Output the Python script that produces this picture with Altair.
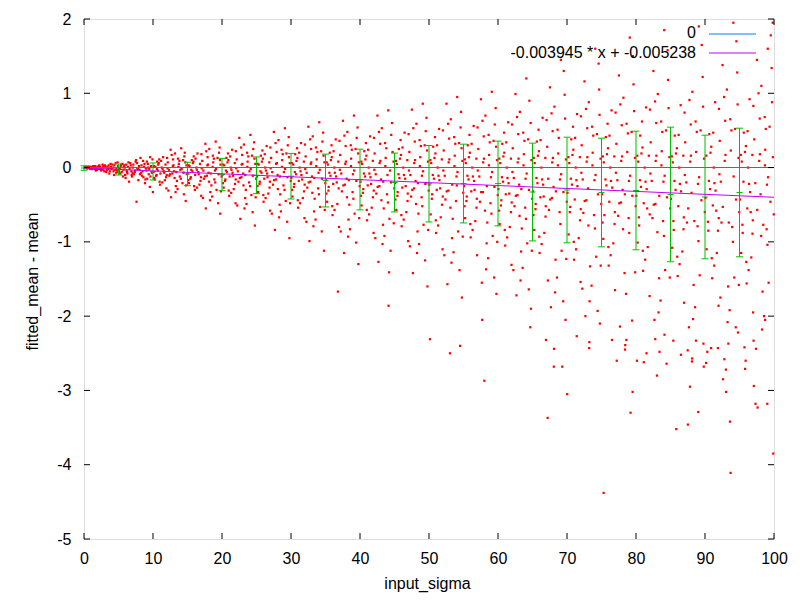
import altair as alt
import pandas as pd

# ---------------- data ----------------
eb_x = [0, 5, 10, 15, 20, 25, 30, 35, 40, 45, 50, 55, 60, 65, 70, 75, 80, 85, 90, 95]
eb_hi = [0.024, 0.048, 0.062, 0.072, 0.124, 0.143, 0.191, 0.181, 0.248, 0.195,
         0.297, 0.315, 0.356, 0.329, 0.409, 0.396, 0.490, 0.544, 0.436, 0.530]
eb_lo = [-0.036, -0.100, -0.167, -0.244, -0.311, -0.351, -0.423, -0.530, -0.570, -0.597,
         -0.732, -0.745, -0.785, -0.987, -1.013, -1.067, -1.107, -1.268, -1.228, -1.201]
eb_mean = [-0.006, -0.026, -0.053, -0.086, -0.094, -0.104, -0.116, -0.175, -0.161, -0.201,
           -0.218, -0.215, -0.215, -0.329, -0.302, -0.336, -0.309, -0.362, -0.396, -0.336]

fit_slope = -0.003945
fit_intercept = -0.005238
line_x = [0, 100]

x_ticks = [0, 10, 20, 30, 40, 50, 60, 70, 80, 90, 100]
y_ticks = [-5, -4, -3, -2, -1, 0, 1, 2]

legend_labels = ["0", "-0.003945 * x + -0.005238"]

# scatter samples (estimated positions of the red dots)
dots_00 = [(0.37,0.00),(2.81,-0.03),(1.52,0.01),(4.66,-0.07),(3.09,0.02),(0.84,-0.01),(2.23,0.03),(4.12,0.04),(1.17,-0.02),(3.74,-0.05),(0.61,0.01),(2.57,-0.01),(4.93,0.02),(1.88,-0.03),(3.41,0.01),(0.15,0.00),(2.02,0.00),(4.35,-0.10),(1.33,0.02),(3.96,-0.02),(0.99,0.00),(2.69,0.04),(4.58,0.06),(1.71,-0.04),(3.22,-0.06),(0.48,-0.01),(2.38,-0.02),(4.79,-0.04),(1.06,0.01),(3.57,0.03),(0.26,0.01),(2.94,-0.05),(4.21,0.00),(1.45,-0.01),(3.85,0.05),(0.72,0.00),(2.13,0.02),(4.47,-0.03),(1.96,0.01),(3.33,-0.03),(0.55,0.00),(2.47,-0.04),(4.04,-0.01),(1.62,0.02),(3.66,-0.08),(0.91,-0.02),(2.75,0.01),(4.87,0.07),(1.24,-0.01),(3.14,0.00),(0.08,0.00),(2.31,0.01),(4.28,-0.05),(1.81,0.00),(3.49,-0.02),(0.66,0.01),(2.88,0.02),(4.71,-0.01),(1.39,0.01),(3.90,0.01),(0.43,-0.01),(2.18,-0.02),(4.41,0.03),(1.58,-0.02),(3.03,0.03),(0.79,0.01),(2.63,-0.02),(4.97,-0.06),(1.12,0.00),(3.61,-0.01)]
dots_05 = [(7.42,-0.04),(5.83,0.03),(9.17,-0.15),(6.29,-0.08),(8.56,0.09),(5.14,-0.01),(9.71,0.02),(6.95,-0.12),(8.03,-0.03),(7.68,0.06),(5.47,-0.06),(9.38,-0.09),(6.12,0.04),(8.84,-0.21),(7.09,0.00),(5.96,-0.10),(9.92,0.11),(6.61,-0.02),(8.27,-0.07),(7.88,-0.17),(5.32,0.02),(9.05,-0.04),(6.44,0.07),(8.69,0.01),(7.23,-0.09),(5.71,-0.03),(9.54,-0.26),(6.78,0.03),(8.41,-0.11),(7.55,0.10),(5.08,-0.05),(9.26,0.05),(6.03,-0.14),(8.95,-0.01),(7.36,-0.06),(5.59,0.05),(9.83,-0.07),(6.87,-0.05),(8.18,0.13),(7.74,-0.02),(5.25,-0.08),(9.63,-0.12),(6.36,0.01),(8.62,-0.13),(7.15,0.04),(5.90,0.00),(9.11,0.08),(6.53,-0.19),(8.49,-0.05),(7.97,0.02),(5.66,-0.12),(9.46,-0.02),(6.18,-0.04),(8.77,0.05),(7.61,-0.46),(5.39,0.04),(9.99,-0.33),(6.70,0.06),(8.10,-0.09),(7.03,-0.07),(5.77,0.01),(9.30,0.00),(6.91,-0.10),(8.33,0.03),(7.47,0.08),(5.18,-0.02),(9.58,0.14),(6.24,-0.06),(8.90,-0.16),(7.81,-0.01)]
dots_10 = [(12.46,-0.09),(10.83,0.06),(14.27,-0.21),(11.39,-0.02),(13.62,0.12),(10.17,-0.14),(14.85,0.03),(11.94,-0.28),(13.05,-0.05),(12.71,0.17),(10.52,-0.10),(14.48,-0.36),(11.16,0.09),(13.88,-0.12),(12.09,-0.01),(10.96,-0.19),(14.61,0.20),(11.63,-0.07),(13.31,-0.25),(12.88,0.02),(10.34,0.01),(14.03,-0.15),(11.47,0.14),(13.74,0.05),(12.23,-0.31),(10.69,-0.04),(14.92,-0.09),(11.81,0.04),(13.47,-0.18),(12.55,0.24),(10.08,-0.06),(14.36,0.10),(11.02,-0.23),(13.96,-0.03),(12.37,-0.11),(10.61,0.08),(14.74,-0.45),(11.89,-0.13),(13.19,0.19),(12.80,-0.08),(10.25,-0.16),(14.15,-0.02),(11.28,0.00),(13.56,-0.29),(12.14,0.07),(10.90,0.11),(14.54,0.15),(11.72,-0.17),(13.39,-0.06),(12.97,0.03),(10.44,-0.11),(14.81,-0.24),(11.55,-0.05),(13.83,0.09),(12.62,-0.40),(10.75,0.04),(14.09,0.26),(11.08,-0.08),(13.13,-0.14),(12.32,-0.03),(10.13,0.02),(14.42,-0.07),(11.35,-0.20),(13.68,0.01),(12.91,0.11),(10.57,-0.02),(14.68,0.07),(11.99,-0.10),(13.27,-0.33),(12.04,0.13)]
dots_15 = [(17.53,-0.12),(15.86,0.08),(19.21,-0.30),(16.34,-0.03),(18.67,0.16),(15.12,-0.17),(19.78,0.04),(16.99,-0.38),(18.04,-0.07),(17.72,0.22),(15.48,-0.13),(19.43,-0.48),(16.17,0.12),(18.89,-0.16),(17.06,-0.01),(15.95,-0.25),(19.66,0.27),(16.62,-0.09),(18.31,-0.33),(17.88,0.03),(15.29,0.02),(19.02,-0.20),(16.45,0.19),(18.73,0.07),(17.24,-0.41),(15.71,-0.05),(19.94,-0.12),(16.81,0.05),(18.46,-0.24),(17.59,0.32),(15.05,-0.08),(19.35,0.13),(16.07,-0.30),(18.98,-0.04),(17.37,-0.15),(15.63,0.10),(19.74,-0.62),(16.88,-0.18),(18.16,0.25),(17.81,-0.11),(15.22,-0.21),(19.13,-0.02),(16.28,0.00),(18.58,-0.39),(17.14,0.09),(15.90,0.15),(19.57,0.20),(16.73,-0.23),(18.37,-0.08),(17.97,0.04),(15.41,-0.15),(19.84,-0.32),(16.56,-0.06),(18.82,0.12),(17.65,-0.55),(15.77,0.06),(19.09,0.35),(16.11,-0.10),(18.12,-0.19),(17.30,-0.04),(15.16,0.03),(19.49,-0.09),(16.39,-0.27),(18.64,0.01),(17.91,0.14),(15.55,-0.03),(19.70,0.10),(16.95,-0.13),(18.26,-0.44),(17.02,0.18)]
dots_20 = [(22.58,-0.14),(20.91,0.10),(24.26,-0.37),(21.37,-0.03),(23.64,0.20),(20.14,-0.21),(24.83,0.05),(21.96,-0.48),(23.07,-0.08),(22.77,0.27),(20.49,-0.16),(24.44,-0.60),(21.19,0.15),(23.92,-0.20),(22.06,-0.01),(20.98,-0.31),(24.65,0.34),(21.61,-0.11),(23.36,-0.41),(22.85,0.04),(20.32,0.03),(24.07,-0.25),(21.46,0.24),(23.71,0.08),(22.21,-0.51),(20.72,-0.06),(24.95,-0.15),(21.85,0.06),(23.45,-0.30),(22.51,0.40),(20.06,-0.10),(24.35,0.16),(21.04,-0.38),(23.98,-0.05),(22.38,-0.19),(20.63,0.13),(24.76,-0.78),(21.88,-0.22),(23.17,0.31),(22.82,-0.13),(20.24,-0.27),(24.16,-0.02),(21.27,0.00),(23.55,-0.49),(22.13,0.11),(20.87,0.19),(24.53,0.25),(21.70,-0.29),(23.38,-0.10),(22.96,0.05),(20.43,-0.18),(24.88,-0.40),(21.53,-0.07),(23.81,0.15),(22.66,-0.69),(20.79,0.07),(24.12,0.44),(21.11,-0.12),(23.11,-0.24),(22.29,-0.05),(20.18,0.04),(24.47,-0.11),(21.33,-0.34),(23.67,0.01),(22.92,0.17),(20.56,-0.04),(24.71,0.12),(21.99,-0.16),(23.26,-0.55),(22.01,0.22)]
dots_25 = [(27.55,-0.17),(25.92,0.12),(29.24,-0.45),(26.36,-0.04),(28.63,0.24),(25.15,-0.25),(29.82,0.06),(26.97,-0.58),(28.06,-0.10),(27.76,0.33),(25.48,-0.19),(29.45,-0.73),(26.19,0.18),(28.91,-0.24),(27.05,-0.01),(25.99,-0.37),(29.67,0.41),(26.60,-0.13),(28.35,-0.50),(27.84,0.05),(25.31,0.04),(29.06,-0.30),(26.47,0.29),(28.72,0.10),(27.22,-0.62),(25.73,-0.07),(29.96,-0.18),(26.86,0.07),(28.44,-0.36),(27.52,0.48),(25.07,-0.12),(29.34,0.19),(26.03,-0.46),(28.97,-0.06),(27.39,-0.23),(25.64,0.16),(29.77,-0.95),(26.89,-0.27),(28.18,0.37),(27.83,-0.16),(25.23,-0.33),(29.15,-0.02),(26.26,0.00),(28.54,-0.59),(27.12,0.13),(25.86,0.23),(29.53,0.30),(26.71,-0.35),(28.39,-0.12),(27.95,0.06),(25.44,-0.22),(29.87,-0.48),(26.54,-0.08),(28.80,0.18),(27.67,-0.84),(25.78,0.08),(29.11,0.53),(26.12,-0.15),(28.10,-0.29),(27.28,-0.06),(25.19,0.05),(29.48,-0.13),(26.32,-0.41),(28.68,0.01),(27.93,0.21),(25.57,-0.05),(29.71,0.14),(26.94,-0.19),(28.27,-0.67),(27.01,0.27)]
dots_30 = [(32.57,-0.20),(30.93,0.13),(34.23,-0.53),(31.38,-0.05),(33.61,0.27),(30.16,-0.30),(34.84,0.07),(31.95,-0.68),(33.04,-0.12),(32.78,0.38),(30.47,-0.22),(34.46,-0.86),(31.18,0.20),(33.93,-0.28),(32.07,-0.02),(30.99,-0.44),(34.66,0.47),(31.62,-0.16),(33.34,-0.59),(32.86,0.05),(30.33,0.04),(34.05,-0.36),(31.45,0.33),(33.72,0.11),(32.23,-0.73),(30.74,-0.09),(34.97,-0.21),(31.87,0.08),(33.43,-0.42),(32.52,0.55),(30.05,-0.14),(34.37,0.22),(31.03,-0.54),(33.99,-0.07),(32.36,-0.27),(30.61,0.18),(34.78,-1.12),(31.89,-0.32),(33.15,0.42),(32.81,-0.19),(30.21,-0.39),(34.17,-0.03),(31.25,0.00),(33.56,-0.70),(32.12,0.15),(30.88,0.26),(34.55,0.35),(31.71,-0.41),(33.37,-0.14),(32.94,0.07),(30.42,-0.26),(34.89,-0.57),(31.51,-0.10),(33.82,0.21),(32.68,-0.99),(30.79,0.09),(34.10,0.61),(31.13,-0.18),(33.09,-0.34),(32.27,-0.07),(30.12,0.06),(34.49,-0.15),(31.31,-0.48),(33.66,0.02),(32.91,0.25),(30.55,-0.06),(34.72,0.16),(31.98,-0.23),(33.25,-0.79),(32.02,0.31)]
dots_35 = [(37.59,-0.24),(35.91,0.14),(39.22,-0.62),(36.35,-0.07),(38.66,0.30),(35.14,-0.35),(39.83,0.07),(36.96,-0.80),(38.07,-0.15),(37.74,0.43),(35.46,-0.26),(39.44,-1.01),(36.17,0.22),(38.92,-0.33),(37.08,-0.03),(35.97,-0.52),(39.65,0.54),(36.63,-0.20),(38.33,-0.70),(37.87,0.05),(35.34,0.04),(39.04,-0.42),(36.48,0.38),(38.71,0.12),(37.21,-0.86),(35.72,-0.11),(39.95,-0.25),(36.85,0.08),(38.45,-0.50),(37.53,0.63),(35.06,-0.17),(39.36,0.25),(36.02,-0.64),(38.98,-0.09),(37.38,-0.32),(35.62,0.20),(39.76,-1.30),(36.80,-1.67),(38.17,0.48),(37.82,-0.23),(35.24,-0.46),(39.16,-0.04),(36.27,0.00),(38.55,-0.83),(37.13,0.17),(35.87,0.30),(39.52,0.40),(36.72,-0.49),(38.38,-0.17),(37.96,0.08),(35.43,-0.31),(39.88,-0.68),(36.53,-0.12),(38.81,0.24),(37.69,-1.15),(35.78,0.10),(39.12,0.70),(36.11,-0.22),(38.11,-0.40),(37.29,-0.08),(35.18,0.07),(39.47,-0.18),(36.31,-0.57),(38.69,0.02),(37.92,0.29),(35.56,-0.07),(39.73,0.19),(36.91,-0.28),(38.28,-0.93),(37.03,0.36)]
dots_40 = [(42.56,-0.26),(40.92,0.16),(44.27,-0.69),(41.36,-0.08),(43.63,0.33),(40.15,-0.38),(44.86,0.08),(41.97,-0.88),(43.05,-0.16),(42.75,0.48),(40.47,-0.29),(44.43,-1.12),(41.18,0.24),(43.91,-0.36),(42.08,-0.03),(40.98,-0.57),(44.64,0.60),(41.61,-0.22),(43.33,-0.77),(42.84,0.06),(40.31,0.05),(44.05,-0.47),(41.46,0.42),(43.72,0.13),(42.22,-0.95),(40.73,-0.12),(44.96,-0.28),(41.86,0.09),(43.44,-0.55),(42.53,0.70),(40.07,-0.19),(44.14,-1.86),(41.02,-0.71),(43.98,-0.10),(42.37,-0.35),(40.62,0.22),(44.22,-1.41),(41.88,-0.40),(43.16,0.53),(42.81,-0.25),(40.23,-0.51),(44.35,-0.04),(41.26,0.00),(43.54,-0.92),(42.12,0.19),(40.86,0.33),(44.53,0.44),(41.70,-0.54),(43.37,-0.19),(42.95,0.09),(40.42,-0.34),(44.89,-0.75),(41.52,-0.13),(43.81,0.26),(42.67,-1.27),(40.78,0.11),(44.09,0.77),(41.12,-0.24),(43.10,-0.44),(42.28,-0.09),(40.19,0.08),(44.48,-0.20),(41.32,-0.63),(43.67,0.02),(42.93,0.32),(40.57,-0.08),(44.72,0.21),(41.99,-0.31),(43.26,-1.03),(42.03,0.40)]
dots_45 = [(47.58,-0.30),(45.94,0.17),(49.21,-0.77),(46.37,-0.10),(48.64,0.37),(45.13,-0.43),(49.85,0.08),(46.98,-0.99),(48.06,-0.18),(47.73,0.53),(45.45,-0.33),(49.43,-1.25),(46.16,0.27),(48.93,-0.40),(47.09,-0.04),(45.99,-0.64),(49.64,0.67),(46.62,-0.25),(48.34,-0.86),(47.86,0.06),(45.33,0.05),(49.02,-0.52),(46.46,0.47),(48.73,0.14),(47.23,-1.06),(45.71,-0.14),(49.96,-0.31),(46.85,0.10),(48.46,-0.62),(47.52,0.78),(45.08,-0.21),(49.37,0.30),(46.04,-0.79),(48.97,-0.11),(47.41,-0.39),(45.63,0.25),(49.77,-1.60),(46.89,-0.45),(48.18,0.59),(47.83,-0.28),(45.26,-0.57),(49.14,-0.05),(46.27,0.00),(48.56,-1.03),(47.15,0.21),(45.88,0.37),(49.53,0.49),(46.71,-0.60),(48.39,-0.21),(47.98,0.10),(45.42,-0.38),(49.88,-0.84),(46.55,-0.15),(48.82,0.29),(47.67,-1.42),(45.79,0.12),(49.10,0.86),(46.13,-0.27),(48.12,-0.49),(47.30,-0.10),(45.20,0.09),(49.47,-0.22),(46.33,-0.70),(48.68,0.02),(47.94,0.35),(45.58,-0.09),(49.72,0.23),(46.92,-0.35),(48.27,-1.15),(47.04,0.45)]
dots_50 = [(52.57,-0.32),(50.93,0.19),(54.22,-0.86),(51.38,-0.11),(53.65,0.41),(50.14,-2.31),(54.84,0.09),(51.97,-1.10),(53.04,-2.50),(52.76,0.59),(50.46,-0.36),(54.43,-1.38),(51.17,0.30),(53.92,-0.45),(52.08,-0.04),(50.99,-0.71),(54.65,0.75),(51.62,-0.28),(53.34,-0.95),(52.85,0.07),(50.32,0.06),(54.51,-2.40),(51.46,0.52),(53.73,0.16),(52.22,-1.18),(50.72,-0.15),(54.96,-0.34),(51.86,0.11),(53.44,-0.69),(52.53,0.86),(50.06,-0.23),(54.35,0.33),(51.03,-0.88),(53.98,-0.12),(52.38,-0.43),(50.61,0.28),(54.77,-1.75),(51.89,-0.50),(53.16,0.65),(52.81,-0.31),(50.24,-0.63),(54.13,-0.06),(51.26,0.00),(53.56,-1.14),(52.13,0.23),(50.87,0.41),(54.58,0.54),(51.70,-0.67),(53.37,-0.23),(52.95,0.11),(50.41,-0.42),(54.89,-0.93),(51.51,-0.17),(53.81,0.32),(52.67,-1.57),(50.79,0.13),(54.09,0.95),(51.12,-0.30),(53.10,-0.54),(52.28,-0.11),(50.19,0.10),(54.03,-0.24),(51.32,-0.78),(53.69,0.02),(52.92,0.39),(50.55,-0.10),(54.72,0.26),(51.99,-0.39),(53.26,-1.28),(52.02,0.50)]
dots_55 = [(57.56,-0.33),(55.92,0.20),(59.23,-0.92),(56.36,-0.12),(58.64,0.44),(55.15,-0.52),(59.86,0.10),(56.97,-1.18),(58.02,-2.87),(57.75,0.63),(55.47,-0.39),(59.44,-1.48),(56.18,0.32),(58.92,-0.48),(57.07,-0.04),(55.98,-0.76),(59.66,0.80),(56.61,-0.30),(58.35,-1.02),(57.85,0.07),(55.33,0.06),(59.05,-0.62),(56.47,0.56),(58.72,0.17),(57.71,-2.05),(55.73,-0.16),(59.97,-0.37),(56.86,0.12),(58.45,-0.74),(57.53,0.92),(55.07,-0.25),(59.36,0.36),(56.04,-0.94),(58.98,-0.13),(57.39,-0.46),(55.62,0.30),(59.77,-1.70),(56.88,-0.54),(58.17,0.70),(57.82,-0.33),(55.24,-0.68),(59.14,-0.06),(56.26,0.00),(58.56,-1.22),(57.14,0.25),(55.87,0.44),(59.53,0.58),(56.71,-0.72),(58.38,-0.25),(57.96,0.12),(55.42,-0.45),(59.89,-1.00),(56.53,-0.18),(58.81,0.34),(57.66,-1.55),(55.79,0.14),(59.10,1.02),(56.13,-0.32),(58.11,-0.58),(57.29,-0.12),(55.19,0.11),(59.48,-0.26),(56.32,-0.84),(58.69,0.03),(57.93,0.42),(55.57,-0.11),(59.72,0.28),(56.93,-0.42),(58.27,-1.37),(57.03,0.54)]
dots_60 = [(62.58,-0.38),(60.91,0.20),(64.24,-1.02),(61.37,-0.14),(63.66,0.47),(60.16,-0.58),(64.85,0.10),(61.96,-1.31),(63.06,-0.23),(62.77,0.68),(60.48,-0.44),(64.46,-1.64),(61.19,0.34),(63.94,-0.54),(62.09,-0.06),(60.98,-0.84),(64.67,-2.15),(61.63,-0.35),(63.35,-1.13),(62.86,0.07),(60.33,0.06),(64.05,-0.69),(61.47,0.61),(63.74,0.18),(62.23,-1.38),(60.73,-0.19),(64.96,-0.42),(61.87,0.12),(63.45,-0.82),(62.54,0.99),(60.06,-0.29),(64.36,0.38),(61.04,-1.05),(63.99,-0.15),(62.39,-0.52),(60.62,0.32),(64.78,-1.90),(61.88,-0.60),(63.17,0.75),(62.82,-0.37),(60.24,-0.76),(64.15,-0.08),(61.27,0.00),(63.57,-1.35),(62.14,0.26),(60.88,0.47),(64.55,0.90),(61.71,-0.80),(63.38,-0.29),(62.97,0.12),(60.42,-0.51),(64.90,-1.12),(61.53,-0.21),(63.83,0.36),(62.68,-1.72),(60.78,0.15),(64.11,1.20),(61.13,-0.36),(63.12,-0.65),(62.29,-0.14),(60.19,0.12),(64.49,-0.30),(61.33,-0.94),(63.70,0.03),(62.93,0.45),(60.57,-0.13),(64.73,0.60),(61.99,-0.47),(63.27,-1.52),(62.03,0.58)]
dots_65 = [(67.57,-0.43),(65.93,0.22),(69.22,-1.12),(66.38,-0.16),(68.63,0.51),(65.14,-0.64),(69.84,0.11),(66.95,-2.32),(68.05,-0.26),(67.76,0.73),(65.46,-0.49),(69.45,-1.80),(66.17,0.37),(68.93,-0.60),(67.19,-3.37),(65.98,-0.93),(69.66,0.98),(66.62,-0.39),(68.34,-1.24),(67.86,0.07),(65.32,0.06),(69.04,-0.76),(66.46,0.67),(68.72,0.19),(67.22,-1.52),(65.72,-0.21),(69.97,-0.46),(66.86,0.13),(68.12,-2.44),(67.53,1.08),(65.07,-0.32),(69.31,-2.68),(66.03,-1.15),(68.98,-0.16),(67.38,-0.57),(65.63,0.35),(69.78,-2.05),(66.89,-0.66),(68.17,0.82),(67.81,-0.41),(65.25,-0.84),(69.15,-0.09),(66.28,0.00),(68.55,-1.48),(67.13,0.28),(65.87,0.51),(69.53,1.30),(66.71,-0.88),(68.39,-0.32),(67.96,0.13),(65.43,-0.56),(69.89,-1.23),(66.54,-0.23),(68.81,0.40),(67.67,-1.88),(65.78,0.16),(69.11,1.45),(66.14,-0.40),(68.09,-2.68),(67.28,-0.15),(65.18,0.13),(69.48,-0.33),(66.32,-1.03),(68.68,0.03),(67.92,0.49),(65.57,-0.14),(69.72,0.66),(66.92,-0.52),(68.27,-1.68),(67.04,0.64)]
dots_70 = [(72.56,-0.45),(70.92,0.24),(74.23,-1.20),(71.36,-0.17),(73.64,0.55),(70.03,-3.05),(74.86,0.12),(71.97,-1.54),(73.05,-0.28),(72.75,0.79),(70.47,-0.53),(74.44,-1.93),(71.18,0.40),(73.92,-0.64),(72.08,-0.07),(70.98,-1.00),(74.65,1.05),(71.41,-2.27),(73.34,-1.33),(72.85,0.08),(70.33,0.06),(74.05,-0.82),(71.46,0.72),(73.72,0.20),(72.22,-1.63),(70.72,-0.23),(74.96,-0.49),(71.86,0.14),(73.21,-2.43),(72.53,1.16),(70.07,-0.34),(74.35,0.45),(71.02,-1.24),(73.98,-0.17),(72.37,-0.61),(70.62,0.38),(74.77,-2.10),(71.89,-0.71),(73.16,0.88),(72.81,-0.44),(70.24,-0.90),(74.14,-0.10),(71.26,0.00),(73.56,-1.59),(72.13,0.30),(70.87,0.55),(74.58,1.40),(71.70,-0.95),(73.24,-2.35),(72.95,0.14),(70.41,-0.60),(74.89,-1.32),(71.51,-0.25),(73.81,0.43),(72.67,-2.00),(70.79,0.17),(74.09,1.60),(71.12,-0.43),(73.10,-0.78),(72.28,-0.16),(70.19,0.14),(74.48,-0.36),(71.32,-1.10),(73.69,0.03),(72.93,0.53),(70.56,-0.15),(74.72,0.71),(71.99,-0.56),(73.27,-1.80),(72.02,0.69)]
dots_75 = [(77.58,-0.48),(75.94,0.26),(79.21,-3.30),(76.37,-0.18),(78.64,0.59),(75.15,-0.74),(79.85,0.13),(76.96,-1.65),(78.06,-0.30),(77.73,0.85),(75.31,-4.38),(79.43,-2.06),(76.16,0.43),(78.93,-0.68),(77.09,-0.07),(75.99,-1.07),(79.64,1.12),(76.52,-2.32),(78.34,-1.42),(77.86,0.09),(75.33,0.07),(79.02,-0.88),(76.46,0.77),(78.73,0.21),(77.21,-2.60),(75.71,-0.24),(79.96,-0.52),(76.85,0.15),(78.41,-2.45),(77.52,1.24),(75.08,-0.36),(79.37,0.48),(76.04,-1.32),(78.98,-0.18),(77.41,-0.65),(75.63,0.41),(79.51,-3.02),(76.89,-0.76),(78.18,0.94),(77.83,-0.47),(75.26,-0.96),(79.14,-0.11),(76.27,0.00),(78.56,-1.70),(77.15,0.32),(75.88,0.59),(79.55,1.50),(76.71,-1.02),(78.38,-0.36),(77.98,0.15),(75.42,-0.64),(79.88,-1.41),(76.55,-0.27),(78.82,0.46),(77.67,-2.14),(75.79,0.18),(79.10,1.75),(76.13,-0.46),(78.12,-0.83),(77.30,-0.17),(75.20,0.15),(79.47,-0.38),(76.33,-1.18),(78.60,-2.32),(77.94,0.57),(75.57,-0.16),(79.72,0.76),(76.93,-0.60),(78.44,-2.39),(77.04,0.74)]
dots_80 = [(82.57,-0.50),(80.93,0.27),(84.22,-1.38),(81.38,-0.19),(83.65,0.62),(80.14,-2.60),(84.84,0.14),(81.97,-1.73),(83.04,-2.80),(82.76,0.89),(80.46,-0.78),(84.43,-2.64),(81.13,-2.62),(83.92,-0.72),(82.08,-0.08),(80.99,-1.12),(84.65,1.18),(81.62,-0.55),(83.34,-1.49),(82.85,0.09),(80.32,0.08),(84.05,-0.92),(81.46,0.81),(83.73,0.22),(82.79,-2.31),(80.72,-0.26),(84.96,-0.55),(81.86,0.16),(83.41,-2.48),(82.53,1.30),(80.06,-0.38),(84.35,0.50),(81.03,-1.39),(83.98,-0.19),(82.38,-0.68),(80.61,0.43),(84.13,-2.25),(81.52,-2.50),(83.16,0.99),(82.81,-0.49),(80.24,-1.01),(84.15,-0.11),(81.26,0.00),(83.56,-1.79),(82.13,0.34),(80.87,0.62),(84.58,1.58),(81.70,-1.07),(83.37,-0.38),(82.95,0.16),(80.41,-0.67),(84.89,-1.48),(81.55,-0.29),(83.81,0.48),(82.67,-2.05),(80.79,0.19),(84.09,1.85),(81.12,-0.48),(83.10,-0.87),(82.28,-0.18),(80.19,0.16),(84.49,-0.40),(81.33,-1.24),(83.69,0.03),(82.93,0.60),(80.57,-0.17),(84.72,0.80),(81.99,-0.63),(83.27,-1.95),(82.02,0.78)]
dots_85 = [(87.56,-0.55),(85.92,0.26),(89.23,-1.45),(86.36,-0.22),(88.64,0.62),(85.84,-3.52),(89.86,0.12),(86.97,-1.82),(88.05,-0.34),(87.75,0.91),(85.47,-0.84),(89.02,-3.29),(86.18,0.44),(88.92,-0.79),(87.07,-0.10),(85.98,-1.20),(89.66,1.22),(86.52,-2.52),(88.35,-1.58),(87.85,0.08),(85.33,0.07),(89.05,-0.99),(86.47,0.84),(88.72,0.21),(87.52,-3.46),(85.73,-0.30),(89.97,-0.60),(86.86,0.16),(88.45,-0.72),(87.49,-2.46),(85.07,-0.42),(89.36,0.50),(86.04,-1.46),(88.98,-0.22),(87.39,-0.74),(85.62,0.43),(89.77,-2.37),(86.88,-0.83),(88.17,1.02),(87.82,-2.95),(85.24,-1.08),(89.14,-0.13),(86.26,0.00),(88.56,-1.88),(87.13,0.34),(85.41,-2.33),(89.53,1.65),(86.71,-1.13),(88.11,-2.61),(87.96,0.16),(85.42,-0.72),(89.82,-2.68),(86.53,-0.32),(88.81,0.48),(87.67,-2.15),(85.79,0.19),(89.10,1.90),(86.13,-0.52),(88.14,-2.57),(87.29,-0.20),(85.19,0.15),(89.48,-0.44),(86.32,-1.30),(88.69,-2.33),(87.93,0.58),(85.57,-0.18),(89.72,0.82),(86.93,-0.67),(88.27,-2.04),(87.04,0.74)]
dots_90 = [(92.58,-0.53),(90.91,0.28),(94.24,-1.48),(91.37,-0.21),(93.66,0.65),(90.16,-2.63),(94.85,0.13),(91.96,-1.86),(93.06,-3.02),(92.77,0.95),(90.48,-0.85),(94.46,-2.15),(91.19,0.47),(93.94,-0.80),(92.09,-0.09),(90.98,-1.22),(94.67,1.28),(91.63,-0.58),(93.35,-1.60),(92.86,0.09),(90.33,-2.48),(94.05,-1.00),(91.47,0.88),(93.74,0.23),(92.23,-1.75),(90.73,-0.29),(94.96,-0.60),(91.87,-2.43),(93.45,-0.74),(92.54,1.38),(90.06,-0.41),(94.36,0.52),(91.04,-1.49),(93.62,-3.42),(92.39,-0.74),(90.62,0.45),(94.78,-2.22),(91.88,-0.85),(93.17,1.05),(92.61,-2.85),(90.24,-1.10),(94.15,-0.12),(91.27,0.00),(93.57,-1.92),(92.14,0.36),(90.88,-2.43),(94.55,1.70),(91.71,-1.15),(93.38,-2.37),(92.97,0.17),(90.42,-0.73),(94.90,-1.58),(91.53,-0.31),(93.83,0.50),(92.81,-2.58),(90.79,0.20),(94.11,1.95),(91.13,-0.51),(93.71,-4.11),(92.29,-0.19),(90.19,0.16),(94.49,-0.43),(91.33,-1.32),(93.03,-2.72),(92.93,0.63),(90.57,-0.18),(94.73,0.85),(91.99,-0.68),(93.27,-2.08),(92.03,0.79)]
dots_95 = [(97.57,-0.57),(95.93,0.29),(99.22,-1.55),(96.38,-0.22),(98.65,0.68),(95.72,-2.42),(99.84,0.14),(96.97,-1.95),(98.05,-0.36),(97.76,1.00),(95.46,-0.88),(99.03,-3.18),(96.17,0.49),(98.93,-0.83),(97.08,-2.94),(95.98,-1.27),(99.66,1.34),(96.62,-0.60),(98.34,-1.67),(97.86,0.09),(95.33,0.08),(99.05,-1.04),(96.46,0.92),(98.73,0.24),(97.32,-3.18),(95.81,-2.71),(99.97,-0.63),(96.86,0.17),(98.45,-0.77),(97.53,1.45),(95.07,-0.43),(99.36,0.55),(96.04,-1.56),(98.98,-0.23),(97.39,-2.44),(95.62,0.47),(99.89,-3.85),(96.88,-0.89),(98.17,1.10),(97.62,-3.23),(95.24,-1.15),(99.14,-0.13),(96.26,0.00),(98.56,-2.00),(97.13,0.38),(95.89,-2.60),(99.53,1.78),(96.71,-1.21),(98.71,-2.05),(97.96,0.18),(95.42,-0.77),(99.81,1.95),(96.53,-0.33),(98.81,0.52),(97.04,-2.33),(95.79,0.21),(99.10,1.60),(96.13,-0.55),(98.14,-0.92),(97.29,-0.21),(95.19,0.17),(99.48,-0.46),(96.32,-1.38),(98.69,0.03),(97.93,0.66),(95.57,-0.19),(99.72,0.88),(96.93,-0.71),(98.27,-2.18),(97.01,0.83)]

# ---------------- tables ----------------
all_dots = (dots_00 + dots_05 + dots_10 + dots_15 + dots_20 + dots_25 + dots_30 + dots_35 +
            dots_40 + dots_45 + dots_50 + dots_55 + dots_60 + dots_65 + dots_70 + dots_75 +
            dots_80 + dots_85 + dots_90 + dots_95)
dots_df = pd.DataFrame(all_dots, columns=["x", "y"])
eb_df = pd.DataFrame({"x": eb_x, "lo": eb_lo, "hi": eb_hi, "y": eb_mean})
zero_df = pd.DataFrame({"x": [line_x[0]], "x2": [line_x[1]], "y": [0]})
fit_df = pd.DataFrame({"x": line_x, "y": [fit_slope * v + fit_intercept for v in line_x]})
xt_df = pd.DataFrame({"x": x_ticks})
yt_df = pd.DataFrame({"y": y_ticks})

W, H = 690, 520
FONT = "Liberation Sans"
RED, GREEN, BLUE, PURPLE = "#ff0000", "#00c000", "#0080ff", "#c000ff"

xs = alt.Scale(domain=[0, 100], nice=False, zero=False, padding=0)
ys = alt.Scale(domain=[-5, 2], nice=False, zero=False, padding=0)

x_axis = alt.Axis(values=x_ticks, title="input_sigma", grid=False, ticks=False, tickSize=0,
                  domain=False, labelFontSize=16, labelFont=FONT, labelColor="black",
                  labelPadding=11, labelFlush=False, titleFontSize=16, titleFont=FONT,
                  titleFontWeight="normal", titleColor="black", titleBaseline="alphabetic",
                  titleY=49, titleX=343, labelExpr="'' + datum.value")
y_axis = alt.Axis(values=y_ticks, title="fitted_mean - mean", grid=False, ticks=False, tickSize=0,
                  domain=False, labelFontSize=16, labelFont=FONT, labelColor="black",
                  labelPadding=13, labelFlush=False, titleFontSize=16, titleFont=FONT,
                  titleFontWeight="normal", titleColor="black", titleBaseline="alphabetic",
                  titleAngle=-90, titleX=-47, titleY=262, labelExpr="'' + datum.value")

X = alt.X("x:Q", scale=xs)

dots = alt.Chart(dots_df).mark_square(size=5, fill=RED, color=RED, opacity=1, strokeWidth=0).encode(
    x=alt.X("x:Q", scale=xs, axis=x_axis),
    y=alt.Y("y:Q", scale=ys, axis=y_axis),
)

# error bars drawn as thin filled bars (lo..hi), caps and centre marks
bars = alt.Chart(eb_df).mark_bar(color=GREEN, width=1, opacity=1, strokeWidth=0).encode(
    x=X, y=alt.Y("lo:Q", scale=ys), y2="hi:Q")
cap_lo = alt.Chart(eb_df).mark_tick(color=GREEN, orient="horizontal", size=7, thickness=1, opacity=1).encode(
    x=X, y=alt.Y("lo:Q", scale=ys))
cap_hi = alt.Chart(eb_df).mark_tick(color=GREEN, orient="horizontal", size=7, thickness=1, opacity=1).encode(
    x=X, y=alt.Y("hi:Q", scale=ys))
centers = alt.Chart(eb_df).mark_tick(color=GREEN, orient="horizontal", size=6, thickness=1, opacity=1).encode(
    x=X, y=alt.Y("y:Q", scale=ys))

# horizontal line y = 0 as a thin filled bar
zero_line = alt.Chart(zero_df).mark_bar(color=BLUE, height=1, opacity=1, strokeWidth=0, orient="horizontal").encode(
    x=X, x2="x2:Q", y=alt.Y("y:Q", scale=ys))
fit_line = alt.Chart(fit_df).mark_line(stroke=PURPLE, color=PURPLE, strokeWidth=1, opacity=1).encode(
    x=X, y=alt.Y("y:Q", scale=ys))

# inward ticks on all four sides
t_bottom = alt.Chart(xt_df).mark_rule(stroke="black", strokeWidth=1).encode(
    x=X, y=alt.value(H), y2=alt.value(H - 6))
t_top = alt.Chart(xt_df).mark_rule(stroke="black", strokeWidth=1).encode(
    x=X, y=alt.value(0), y2=alt.value(6))
t_left = alt.Chart(yt_df).mark_rule(stroke="black", strokeWidth=1).encode(
    y=alt.Y("y:Q", scale=ys), x=alt.value(0), x2=alt.value(6))
t_right = alt.Chart(yt_df).mark_rule(stroke="black", strokeWidth=1).encode(
    y=alt.Y("y:Q", scale=ys), x=alt.value(W), x2=alt.value(W - 6))

# key (top right, label left of sample line)
leg_txt1 = alt.Chart(pd.DataFrame({"t": [legend_labels[0]]})).mark_text(
    align="right", baseline="alphabetic", font=FONT, fontSize=16, color="black").encode(
    text="t:N", x=alt.value(612), y=alt.value(18.5))
leg_txt2 = alt.Chart(pd.DataFrame({"t": [legend_labels[1]]})).mark_text(
    align="right", baseline="alphabetic", font=FONT, fontSize=16, color="black").encode(
    text="t:N", x=alt.value(612), y=alt.value(38.5))
leg_l1 = alt.Chart(pd.DataFrame({"t": [0]})).mark_rule(stroke=BLUE, strokeWidth=1).encode(
    x=alt.value(625), x2=alt.value(672), y=alt.value(15))
leg_l2 = alt.Chart(pd.DataFrame({"t": [0]})).mark_rule(stroke=PURPLE, strokeWidth=1).encode(
    x=alt.value(625), x2=alt.value(672), y=alt.value(34))

chart = alt.layer(
    dots, bars, cap_lo, cap_hi, centers, zero_line, fit_line,
    t_bottom, t_top, t_left, t_right,
    leg_txt1, leg_txt2, leg_l1, leg_l2,
).properties(
    width=W, height=H,
    autosize=alt.AutoSizeParams(type="none"),
    padding={"left": 76, "top": 11, "right": 16, "bottom": 58},
    background="white",
).configure_view(
    stroke="black", strokeWidth=1
).configure_axis(
    grid=False, ticks=False, domain=False
).configure(font=FONT)

chart.save("out.html", embed_options={"renderer": "svg", "actions": False})
